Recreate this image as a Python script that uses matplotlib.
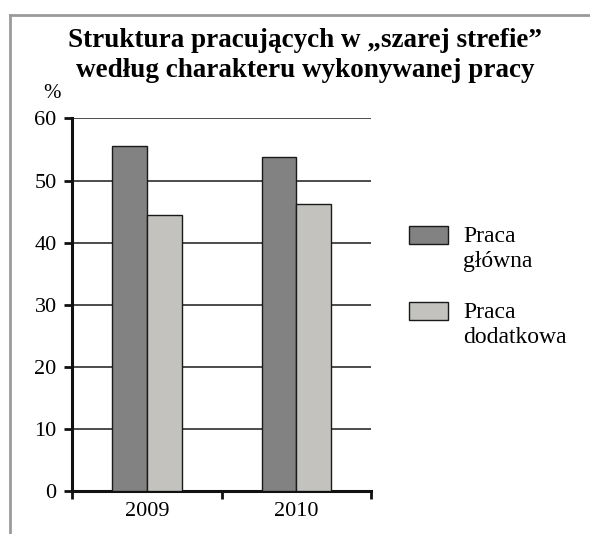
import matplotlib
matplotlib.use("Agg")
import matplotlib.pyplot as plt
import numpy as np
from matplotlib.patches import Rectangle
from matplotlib.lines import Line2D

categories = ["2009", "2010"]
series_names = [["Praca", "główna"], ["Praca", "dodatkowa"]]
praca_glowna = [55.5, 53.8]
praca_dodatkowa = [44.5, 46.2]
yticks = [0, 10, 20, 30, 40, 50, 60]
title_lines = ["Struktura pracujących w \u201eszarej strefie\u201d",
               "według charakteru wykonywanej pracy"]

plt.rcParams['font.family'] = ['Liberation Serif', 'DejaVu Serif']

W, H = 590, 534
fig = plt.figure(figsize=(W/100, H/100), dpi=100)

def fx(px):
    return px / W

def fy(py):
    return 1 - py / H

ax = fig.add_axes([fx(72.3), fy(490.7), (371 - 72.3)/W, (490.7 - 118.5)/H])

x = np.arange(len(categories))
bw = 0.232
colors = ["#828282", "#c3c2bf"]
ax.bar(x - bw/2, praca_glowna, bw, color=colors[0], edgecolor="#1a1a1a", linewidth=1.0, zorder=3)
ax.bar(x + bw/2, praca_dodatkowa, bw, color=colors[1], edgecolor="#1a1a1a", linewidth=1.0, zorder=3)

ax.set_ylim(0, 60)
ax.set_xlim(-0.5, len(categories) - 0.5)
ax.set_yticks(yticks)
ax.set_yticklabels([str(v) for v in yticks], fontsize=16)
ax.yaxis.grid(True, color="#2e2e2e", linewidth=1.2, zorder=0)
ax.set_axisbelow(True)

ax.set_xticks(np.arange(-0.5, len(categories), 1.0))
ax.set_xticklabels([])
ax.set_xticks(x, minor=True)
ax.set_xticklabels(categories, minor=True, fontsize=16)
ax.tick_params(axis='x', which='minor', length=0, pad=8)
ax.tick_params(axis='x', which='major', direction='out', length=5.5, width=2, color="#111")
ax.tick_params(axis='y', direction='out', length=5.8, width=2, color="#111", pad=5.5)

for s in ['top', 'right']:
    ax.spines[s].set_visible(False)
for s in ['left', 'bottom']:
    ax.spines[s].set_linewidth(2.2)
    ax.spines[s].set_color("#111")

fig.text(fx(52.5), fy(93), "%", fontsize=15, ha='center', va='center')

fig.text(fx(305), fy(46.7), title_lines[0], fontsize=19.5, fontweight='bold',
         ha='center', va='baseline')
fig.text(fx(305), fy(76.7), title_lines[1], fontsize=19.5, fontweight='bold',
         ha='center', va='baseline')

# legend
for (ly, names, c, baselines) in zip([225.7, 301.7], series_names, colors,
                                      [[242.3, 267.5], [318.3, 343.3]]):
    fig.patches.append(Rectangle((fx(409), fy(ly + 18.5)), 39/W, 18.5/H,
                                 transform=fig.transFigure, facecolor=c,
                                 edgecolor="#1a1a1a", linewidth=1.0))
    for nm, b in zip(names, baselines):
        fig.text(fx(463), fy(b), nm, fontsize=17, ha='left', va='baseline')

# outer frame (top and left)
fig.lines.append(Line2D([fx(9.5), fx(9.5)], [0, fy(15)], transform=fig.transFigure,
                        color="#9a9a9a", linewidth=2))
fig.lines.append(Line2D([fx(9.5), 1], [fy(15), fy(15)], transform=fig.transFigure,
                        color="#9a9a9a", linewidth=2))

fig.savefig("out.png", dpi=100)
